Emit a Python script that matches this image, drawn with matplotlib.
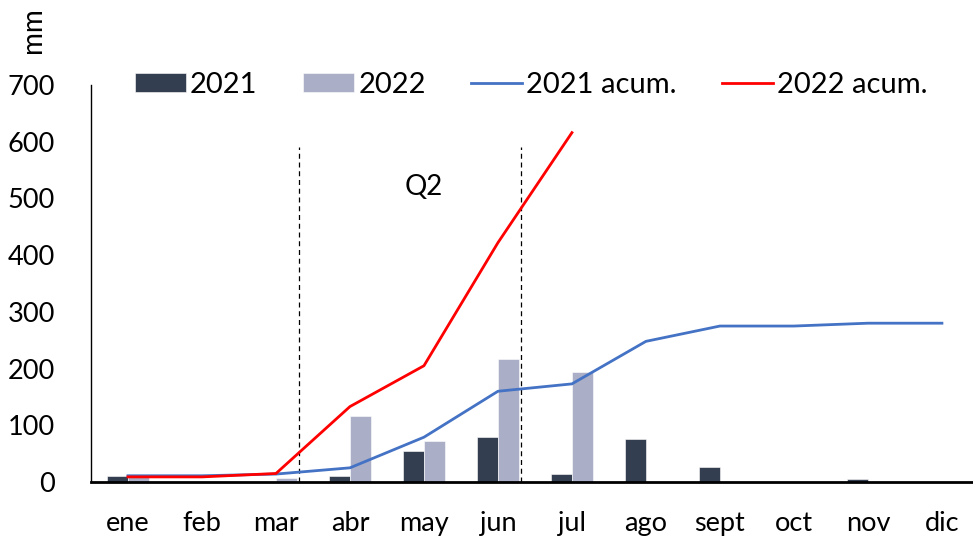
import numpy as np
import matplotlib
matplotlib.use("Agg")
import matplotlib.pyplot as plt

plt.rcParams.update({'font.family': ['Lato', 'DejaVu Sans'],
                     'font.size': 19})

months = ['ene', 'feb', 'mar', 'abr', 'may', 'jun', 'jul', 'ago', 'sept', 'oct', 'nov', 'dic']
rain_2021 = [10, 0, 0, 10, 55, 80, 14, 76, 27, 0, 5, 0]
rain_2022 = [8, 0, 7, 117, 72, 217, 194]
acum_2021 = [11, 11, 14, 25, 79, 160, 173, 248, 275, 275, 280, 280]
acum_2022 = [9, 9, 15, 133, 205, 422, 616]
q2_bounds = [2.31, 5.31]

fig = plt.figure(figsize=(9.73, 5.40), dpi=100)
ax = fig.add_axes([0.0935, 0.1074, 0.9065, 0.7352])

x = np.arange(len(months))
w = 0.286
b1 = ax.bar(x - w / 2, rain_2021, w, color='#333F50', edgecolor='white', linewidth=0.4, label='2021', zorder=2)
b2 = ax.bar(x[:len(rain_2022)] + w / 2, rain_2022, w, color='#AAAEC6', edgecolor='white', linewidth=0.4, label='2022', zorder=2)
l1, = ax.plot(x, acum_2021, color='#4472C4', lw=2.0, label='2021 acum.', zorder=3)
l2, = ax.plot(x[:len(acum_2022)], acum_2022, color='#FF0000', lw=2.0, label='2022 acum.', zorder=4)

for xb in q2_bounds:
    ax.plot([xb, xb], [0, 590], color='black', lw=0.9, ls=(0, (4, 3)), zorder=1)
ax.text(4.0, 520, 'Q2', ha='center', va='center', fontsize=20)

ax.set_xlim(-0.5, 11.42)
ax.set_ylim(0, 700)
ax.set_yticks(range(0, 701, 100))
ax.set_xticks(x)
ax.set_xticklabels(months)
ax.tick_params(axis='y', length=0, pad=26, labelsize=19.5)
ax.tick_params(axis='x', length=0, pad=21, labelsize=19.5)
for s in ['top', 'right']:
    ax.spines[s].set_visible(False)
ax.spines['left'].set_linewidth(1.0)
ax.spines['bottom'].set_linewidth(2.0)

fig.legend([b1, b2, l1, l2], ['2021', '2022', '2021 acum.', '2022 acum.'],
           loc='center', bbox_to_anchor=(0.546, 0.843), ncol=4, frameon=False,
           handlelength=1.75, handleheight=0.6, columnspacing=1.55, handletextpad=0.15, fontsize=21)
fig.text(0.034, 0.945, 'mm', rotation=90, ha='center', va='center', fontsize=20)

fig.savefig('out.png', dpi=100)
